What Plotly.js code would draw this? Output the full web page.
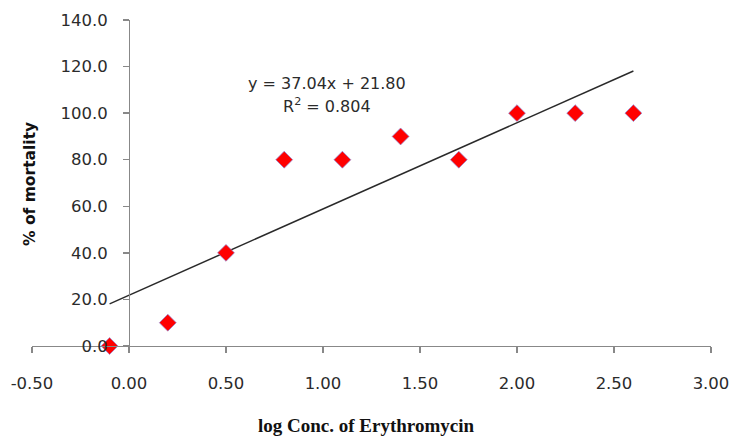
<!DOCTYPE html>
<html>
<head>
<meta charset="utf-8">
<script src="https://cdn.plot.ly/plotly-3.0.1.min.js"></script>
<style>html,body{margin:0;padding:0;background:#fff;}#chart{width:733px;height:439px;}</style>
</head>
<body>
<div id="chart"></div>
<script>
const logConc = [-0.1, 0.2, 0.5, 0.8, 1.1, 1.4, 1.7, 2.0, 2.3, 2.6];
const mortality = [0, 10, 40, 80, 80, 90, 80, 100, 100, 100];
const slope = 37.04;
const intercept = 21.80;
const rSquared = 0.804;
const xTicks = [-0.5, 0, 0.5, 1, 1.5, 2, 2.5, 3];
const xTickLabels = ["-0.50", "0.00", "0.50", "1.00", "1.50", "2.00", "2.50", "3.00"];
const yTicks = [0, 20, 40, 60, 80, 100, 120, 140];
const yTickLabels = ["0.0", "20.0", "40.0", "60.0", "80.0", "100.0", "120.0", "140.0"];

const xMin = Math.min(...logConc), xMax = Math.max(...logConc);
const trendX = [xMin, xMax];
const trendY = trendX.map(v => slope * v + intercept);

const tickFont = {family: "DejaVu Sans, Verdana, sans-serif", size: 16.5, color: "#2b2b2b"};

const data = [
  {x: trendX, y: trendY, type: "scatter", mode: "lines",
   line: {color: "#2a2a2a", width: 1.5}, hoverinfo: "skip", showlegend: false},
  {x: logConc, y: mortality, type: "scatter", mode: "markers",
   marker: {symbol: "diamond", size: 13, color: "#ff0000",
            line: {color: "rgba(140,140,220,0.7)", width: 1}},
   showlegend: false, cliponaxis: false}
];

const layout = {
  width: 733, height: 439,
  margin: {l: 32, r: 22, t: 20, b: 93},
  paper_bgcolor: "#fff", plot_bgcolor: "#fff",
  showlegend: false,
  xaxis: {
    range: [-0.5, 3.0], tickvals: xTicks, ticktext: xTickLabels,
    showgrid: false, zeroline: false, showline: true, linecolor: "#888", linewidth: 1.3,
    ticks: "outside", ticklen: 6, tickcolor: "#888", tickwidth: 1.3,
    ticklabelstandoff: 16, tickfont: tickFont
  },
  yaxis: {
    range: [0, 140], tickvals: yTicks, ticktext: yTickLabels,
    anchor: "free", position: (0 - (-0.5)) / 3.5,
    showgrid: false, zeroline: false, showline: true, linecolor: "#888", linewidth: 1.3,
    ticks: "outside", ticklen: 6, tickcolor: "#888", tickwidth: 1.3,
    ticklabelstandoff: 12, tickfont: tickFont
  },
  annotations: [
    {text: "y = " + slope.toFixed(2) + "x + " + intercept.toFixed(2), xref: "paper", yref: "paper",
     x: (327 - 32) / 679, y: (346 - 83) / 326, xanchor: "center", yanchor: "middle", showarrow: false,
     font: {family: "DejaVu Sans, Verdana, sans-serif", size: 16, color: "#2b2b2b"}},
    {text: "R<sup>2</sup> = " + rSquared.toFixed(3), xref: "paper", yref: "paper",
     x: (327 - 32) / 679, y: (346 - 105) / 326, xanchor: "center", yanchor: "middle", showarrow: false,
     font: {family: "DejaVu Sans, Verdana, sans-serif", size: 16, color: "#2b2b2b"}},
    {text: "<b>log Conc. of Erythromycin</b>", xref: "paper", yref: "paper",
     x: (366 - 32) / 679, y: (346 - 438) / 326, xanchor: "center", yanchor: "bottom", showarrow: false,
     font: {family: "Liberation Serif, Times New Roman, serif", size: 19, color: "#111"}},
    {text: "<b>% of mortality</b>", xref: "paper", yref: "paper",
     x: (30 - 32) / 679, y: (346 - 184) / 326, xanchor: "center", yanchor: "middle", showarrow: false,
     textangle: -90,
     font: {family: "DejaVu Sans, Verdana, sans-serif", size: 15.5, color: "#111"}}
  ]
};

Plotly.newPlot("chart", data, layout, {displayModeBar: false, staticPlot: true});
</script>
</body>
</html>
